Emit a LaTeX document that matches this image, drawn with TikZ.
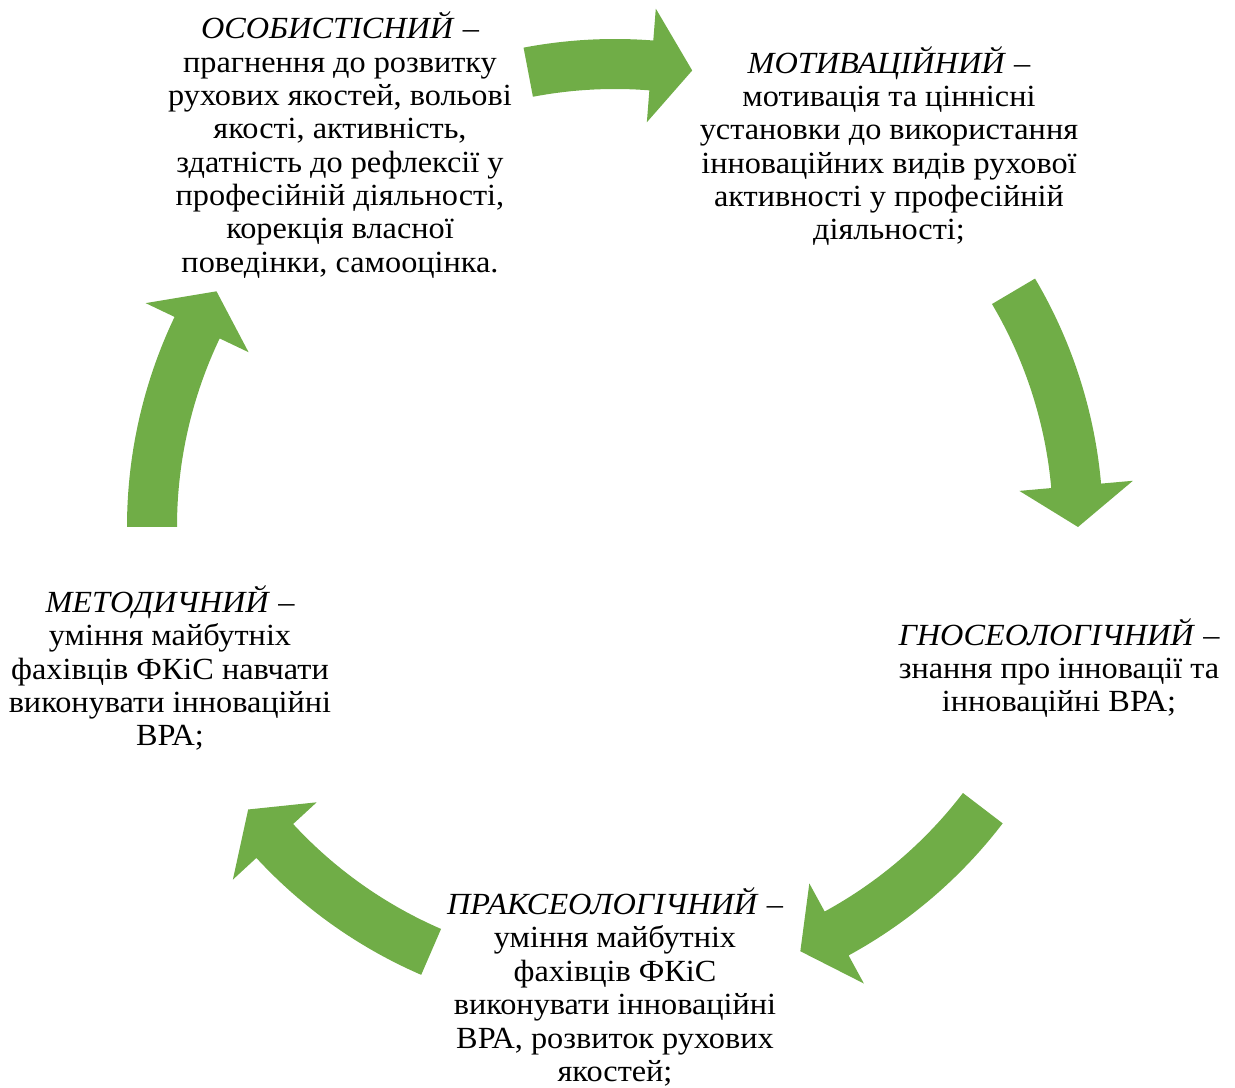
\documentclass[tikz,border=0pt]{standalone}
\usepackage{fontspec}
\setmainfont{Liberation Serif}[FakeStretch=1.05]

\definecolor{cyclegreen}{HTML}{70AD47}
\tikzset{
	stagetext/.style={align=center, inner sep=0pt, font=\fontsize{17.5}{19}\selectfont},
	ringarrow/.style={fill=cyclegreen, draw=none},
}

\begin{document}
\begin{tikzpicture}[x=0.02cm, y=0.02cm]
	\useasboundingbox (0, 0) rectangle (1235, 1088);

	% green arrows of the ring, centre (615, 561)
	\begin{scope}[shift={(615, 561)}]
		\fill[ringarrow] (100.8:488) arc[start angle=100.8, end angle=85.5, radius=488] -- (85.5:520) -- (80.4:463) -- (85.5:406) -- (85.5:438) arc[start angle=85.5, end angle=100.8, radius=438] -- cycle;
		\fill[ringarrow] (30.6:488) arc[start angle=30.6, end angle=5.1, radius=488] -- (5.1:520) -- (0:463) -- (5.1:406) -- (5.1:438) arc[start angle=5.1, end angle=30.6, radius=438] -- cycle;
		\fill[ringarrow] (-37.4:488) arc[start angle=-37.4, end angle=-61.4, radius=488] -- (-61.4:520) -- (-66.4:463) -- (-61.4:406) -- (-61.4:438) arc[start angle=-61.4, end angle=-37.4, radius=438] -- cycle;
		\fill[ringarrow] (246.6:488) arc[start angle=246.6, end angle=222.7, radius=488] -- (222.7:520) -- (217.6:463) -- (222.7:406) -- (222.7:438) arc[start angle=222.7, end angle=246.6, radius=438] -- cycle;
		\fill[ringarrow] (180:488) arc[start angle=180, end angle=154.5, radius=488] -- (154.5:520) -- (149.4:463) -- (154.5:406) -- (154.5:438) arc[start angle=154.5, end angle=180, radius=438] -- cycle;
	\end{scope}

	\node[stagetext] (osob) at (340, 943) {\textit{ОСОБИСТІСНИЙ} –\\прагнення до розвитку\\рухових якостей, вольові\\якості, активність,\\здатність до рефлексії у\\професійній діяльності,\\корекція власної\\поведінки, самооцінка.};
	\node[stagetext] (motiv) at (889, 942) {\textit{МОТИВАЦІЙНИЙ} –\\мотивація та ціннісні\\установки до використання\\інноваційних видів рухової\\активності у професійній\\діяльності;};
	\node[stagetext] (gnos) at (1059, 420) {\textit{ГНОСЕОЛОГІЧНИЙ} –\\знання про інновації та\\інноваційні ВРА;};
	\node[stagetext] (prax) at (615, 101) {\textit{ПРАКСЕОЛОГІЧНИЙ} –\\уміння майбутніх\\фахівців ФКіС\\виконувати інноваційні\\ВРА, розвиток рухових\\якостей;};
	\node[stagetext] (metod) at (170, 420) {\textit{МЕТОДИЧНИЙ} –\\уміння майбутніх\\фахівців ФКіС навчати\\виконувати інноваційні\\ВРА;};
\end{tikzpicture}
\end{document}
